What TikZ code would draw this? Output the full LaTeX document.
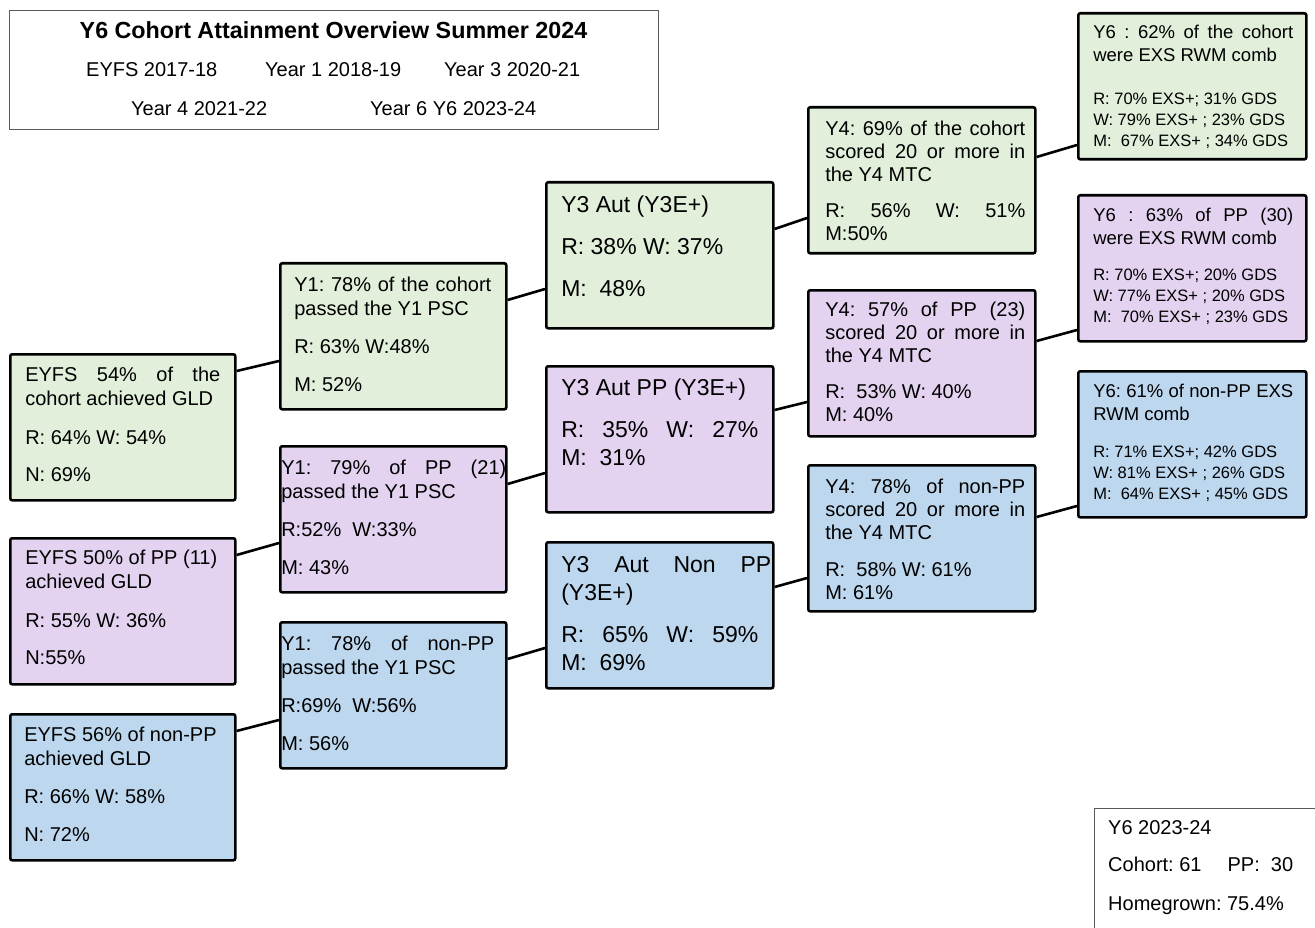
\documentclass[tikz,border=0pt]{standalone}
\usepackage{fontspec}
\setmainfont{Liberation Sans}
\frenchspacing
\definecolor{cohortgreen}{HTML}{E2EFDA}
\definecolor{pppurple}{HTML}{E3D3F0}
\definecolor{nonppblue}{HTML}{BDD7EE}
\newcommand{\bodyfont}{\fontsize{20}{24}\selectfont}
\newcommand{\bigfont}{\fontsize{23}{28}\selectfont}
\newcommand{\tightfont}{\fontsize{20}{23}\selectfont}
\newcommand{\headfont}{\fontsize{18.5}{23}\selectfont}
\newcommand{\datafont}{\fontsize{16.5}{21}\selectfont}
\newcommand{\titlefont}{\fontsize{23.3}{28}\selectfont\bfseries}
\newcommand{\J}[1]{\makebox[\linewidth][s]{#1}}
% box width, left pad, text width, top gap, lines
\newcommand{\card}[5]{\makebox[#1][l]{\hspace*{#2}\parbox[c][146pt][t]{#3}{\vspace*{#4}\strut#5}}}
\tikzset{
  box/.style={draw=black, line width=2.6pt, rounded corners=2pt, inner sep=0pt,
    anchor=north west, font=\bodyfont},
  cohort/.style={box, fill=cohortgreen},
  pp/.style={box, fill=pppurple},
  nonpp/.style={box, fill=nonppblue},
  frame/.style={draw=black!65, line width=1.2pt, anchor=north west, inner sep=0pt},
  txt/.style={anchor=base west, inner sep=0pt, font=\bodyfont},
  link/.style={line width=2.6pt},
}
\begin{document}
\begin{tikzpicture}[x=1pt, y=-1pt]
      \useasboundingbox (0,0) rectangle (1315,928);
      % heading
      \node[frame, minimum width=649, minimum height=119] (head) at (9,10) {};
      \node[anchor=base, inner sep=0pt, font=\titlefont] (title) at (333.5,39) {Y6 Cohort Attainment Overview Summer 2024};
      \node[txt] (yrEyfs) at (86,77) {EYFS 2017-18};
      \node[txt] (yrOne) at (265,77) {Year 1 2018-19};
      \node[txt] (yrThree) at (444,77) {Year 3 2020-21};
      \node[txt] (yrFour) at (131,116) {Year 4 2021-22};
      \node[txt] (yrSix) at (370,116) {Year 6 Y6 2023-24};
      % EYFS
      \node[cohort] (eyfsA) at (9,353) {\card{225pt}{15pt}{195pt}{10pt}{%
        \J{EYFS 54\% of the}\\ cohort achieved GLD\\[15pt] R: 64\% W: 54\%\\[13pt] N: 69\%}};
      \node[pp] (eyfsB) at (9,537) {\card{225pt}{15pt}{195pt}{9pt}{%
        EYFS 50\% of PP (11)\\ achieved GLD\\[15pt] R: 55\% W: 36\%\\[13pt] N:55\%}};
      \node[nonpp] (eyfsC) at (9,713) {\card{225pt}{14pt}{196pt}{10pt}{%
        EYFS 56\% of non-PP\\ achieved GLD\\[14pt] R: 66\% W: 58\%\\[14pt] N: 72\%}};
      % Year 1
      \node[cohort] (yoneA) at (279,262) {\card{226pt}{14pt}{197pt}{11pt}{%
        \J{Y1: 78\% of the cohort}\\ passed the Y1 PSC\\[14pt] R: 63\% W:48\%\\[14pt] M: 52\%}};
      \node[pp] (yoneB) at (279,445) {\card{226pt}{1pt}{225pt}{11pt}{%
        \J{Y1: 79\% of PP (21)}\\ passed the Y1 PSC\\[14pt] R:52\%~~W:33\%\\[14pt] M: 43\%}};
      \node[nonpp] (yoneC) at (279,621) {\card{226pt}{1pt}{213pt}{11pt}{%
        \J{Y1: 78\% of non-PP}\\ passed the Y1 PSC\\[14pt] R:69\%~~W:56\%\\[14pt] M: 56\%}};
      % Year 3
      \node[cohort, font=\bigfont] (ythreeA) at (545,181) {\card{227pt}{15pt}{197pt}{11pt}{%
        Y3 Aut (Y3E+)\\[14pt] R: 38\% W: 37\%\\[14pt] M:~~48\%}};
      \node[pp, font=\bigfont] (ythreeB) at (545,365) {\card{227pt}{15pt}{197pt}{10pt}{%
        Y3 Aut PP (Y3E+)\\[14pt] \J{R: 35\% W: 27\%}\\ M:~~31\%}};
      \node[nonpp, font=\bigfont] (ythreeC) at (545,541) {\card{227pt}{15pt}{197pt}{11pt}{%
        \makebox[210pt][s]{Y3 Aut Non PP}\\ (Y3E+)\\[14pt] \J{R: 65\% W: 59\%}\\ M:~~69\%}};
      % Year 4
      \node[cohort, font=\tightfont] (yfourA) at (807,106) {\card{227pt}{17pt}{200pt}{12pt}{%
        \J{Y4: 69\% of the cohort}\\ \J{scored 20 or more in}\\ the Y4 MTC\\[13pt]
        \J{R: 56\% W: 51\%}\\ M:50\%}};
      \node[pp, font=\tightfont] (yfourB) at (807,289) {\card{227pt}{17pt}{200pt}{10pt}{%
        \J{Y4: 57\% of PP (23)}\\ \J{scored 20 or more in}\\ the Y4 MTC\\[13pt]
        R:~~53\% W: 40\%\\ M: 40\%}};
      \node[nonpp, font=\tightfont] (yfourC) at (807,464) {\card{227pt}{17pt}{200pt}{12pt}{%
        \J{Y4: 78\% of non-PP}\\ \J{scored 20 or more in}\\ the Y4 MTC\\[14pt]
        R:~~58\% W: 61\%\\ M: 61\%}};
      % Year 6
      \node[cohort, font=\headfont] (ysixA) at (1077,12) {\card{228pt}{15pt}{200pt}{9pt}{%
        {\J{Y6 : 62\% of the cohort}\\ were EXS RWM comb\par}\vspace{22pt}
        {\datafont R: 70\% EXS+; 31\% GDS\\ W: 79\% EXS+ ; 23\% GDS\\ M:~~67\% EXS+ ; 34\% GDS\par}}};
      \node[pp, font=\headfont] (ysixB) at (1077,194) {\card{228pt}{15pt}{200pt}{10pt}{%
        {\J{Y6 : 63\% of PP (30)}\\ were EXS RWM comb\par}\vspace{15pt}
        {\datafont R: 70\% EXS+; 20\% GDS\\ W: 77\% EXS+ ; 20\% GDS\\ M:~~70\% EXS+ ; 23\% GDS\par}}};
      \node[nonpp, font=\headfont] (ysixC) at (1077,370) {\card{228pt}{15pt}{200pt}{10pt}{%
        {\J{Y6: 61\% of non-PP EXS}\\ RWM comb\par}\vspace{16pt}
        {\datafont R: 71\% EXS+; 42\% GDS\\ W: 81\% EXS+ ; 26\% GDS\\ M:~~64\% EXS+ ; 45\% GDS\par}}};
      % facts
      \node[frame, minimum width=300, minimum height=200] (facts) at (1094,808) {};
      \node[txt] (factYear) at (1108,834) {Y6 2023-24};
      \node[txt] (factSize) at (1108,871) {Cohort: 61\hspace*{26pt}PP:~~30};
      \node[txt] (factHome) at (1108,910) {Homegrown: 75.4\%};
      \begin{scope}[link]
        \draw ([yshift=-18pt]eyfsA.north east) -- ([yshift=-99pt]yoneA.north west);
        \draw ([yshift=-18pt]eyfsB.north east) -- ([yshift=-98pt]yoneB.north west);
        \draw ([yshift=-18pt]eyfsC.north east) -- ([yshift=-99pt]yoneC.north west);
        \draw ([yshift=-38pt]yoneA.north east) -- ([yshift=-108pt]ythreeA.north west);
        \draw ([yshift=-39pt]yoneB.north east) -- ([yshift=-108pt]ythreeB.north west);
        \draw ([yshift=-38pt]yoneC.north east) -- ([yshift=-107pt]ythreeC.north west);
        \draw ([yshift=-48pt]ythreeA.north east) -- ([yshift=-112pt]yfourA.north west);
        \draw ([yshift=-45pt]ythreeB.north east) -- ([yshift=-113pt]yfourB.north west);
        \draw ([yshift=-46pt]ythreeC.north east) -- ([yshift=-114pt]yfourC.north west);
        \draw ([yshift=-51pt]yfourA.north east) -- ([yshift=-133pt]ysixA.north west);
        \draw ([yshift=-52pt]yfourB.north east) -- ([yshift=-136pt]ysixB.north west);
        \draw ([yshift=-53pt]yfourC.north east) -- ([yshift=-136pt]ysixC.north west);
      \end{scope}
    \end{tikzpicture}
\end{document}
